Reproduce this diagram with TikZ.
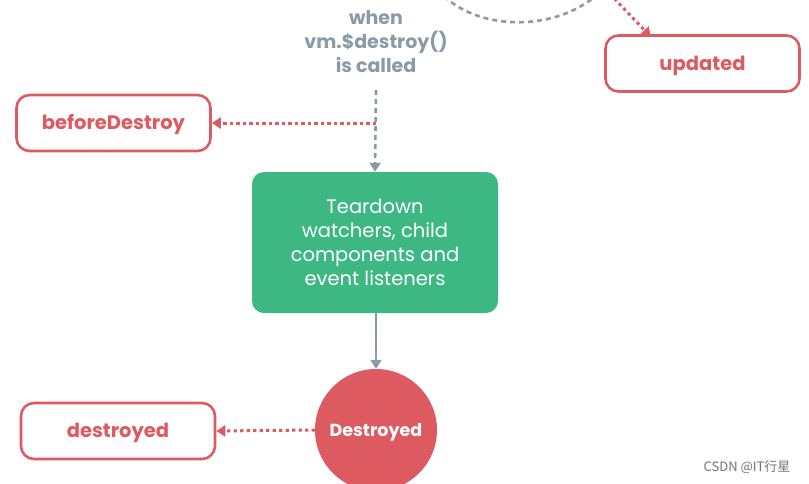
\documentclass[tikz,border=0pt]{standalone}
\usepackage{fontspec}
\setmainfont{Poppins}
\newfontfamily\cjkfont{Noto Sans CJK SC}
\usetikzlibrary{arrows.meta}
\definecolor{vred}{HTML}{DC5A60}
\definecolor{vgreen}{HTML}{3DB882}
\definecolor{vgrey}{HTML}{8A9AA6}
\tikzset{
  hook/.style={draw=vred, line width=2.6pt, rounded corners=13pt, fill=white,
    minimum width=194pt, minimum height=56pt, text=vred, inner sep=0pt,
    text height=13.8pt, text depth=0pt,
    font=\fontsize{19.5}{22}\selectfont\bfseries},
  reddot/.style={draw=vred, line width=3pt, dash pattern=on 3.2pt off 3.3pt,
    -{Triangle[width=11pt,length=9pt]}},
  greydash/.style={draw=vgrey, line width=2.6pt, dash pattern=on 5pt off 4pt},
  greyarrow/.style={draw=vgrey, line width=2.6pt, -{Triangle[width=11pt,length=9pt]}},
}
\begin{document}
\begin{tikzpicture}[x=1pt,y=-1pt]
\useasboundingbox (0,0) rectangle (809,483);
% top grey dashed curve
\coordinate (c0) at (438,-10);
\coordinate (c1) at (602,-10);
\draw[greydash] (c0) .. controls (475,33) and (560,33) .. (c1);
% updated
\node[hook] (updated) at (702.5,63.5) {updated};
\coordinate (u0) at (610,-6);
\coordinate (u1) at (650,36);
\draw[reddot, shorten >=-1pt] (u0) -- (u1);
% when label
\node[text=vgrey, align=center, font=\fontsize{19}{24}\selectfont\bfseries] (when) at (376,42)
  {when\\vm.\$destroy()\\is called};
% beforeDestroy
\node[hook] (before) at (113.5,123) {beforeDestroy};
\coordinate (w0) at (376,90);
\coordinate (b0) at (376,123);
% teardown box
\node[fill=vgreen, rounded corners=12pt, minimum width=246pt, minimum height=141pt,
  text=white, align=center, font=\fontsize{19.5}{24}\selectfont] (tear) at (375,242.5)
  {Teardown\\watchers, child\\components and\\event listeners};
\draw[greydash, -{Triangle[width=11pt,length=9pt]}] (w0) -- (tear.north);
\draw[reddot] (b0) -- (before.east);
% destroyed circle
\node[circle, fill=vred, minimum size=122pt, inner sep=0pt, text=white,
  text height=12.4pt, text depth=0pt,
  font=\fontsize{17.5}{20}\selectfont\bfseries] (dcirc) at (376,430) {Destroyed};
\draw[greyarrow] (tear.south -| dcirc.north) -- (dcirc.north);
% destroyed hook
\node[hook] (destroyed) at (118,431) {destroyed};
\draw[reddot] (dcirc.west) -- (destroyed.east);
% watermark
\node[text=black!55, font=\cjkfont\fontsize{13}{15}\selectfont, anchor=east] (wm) at (794,467) {CSDN @IT行星};
\end{tikzpicture}
\end{document}
